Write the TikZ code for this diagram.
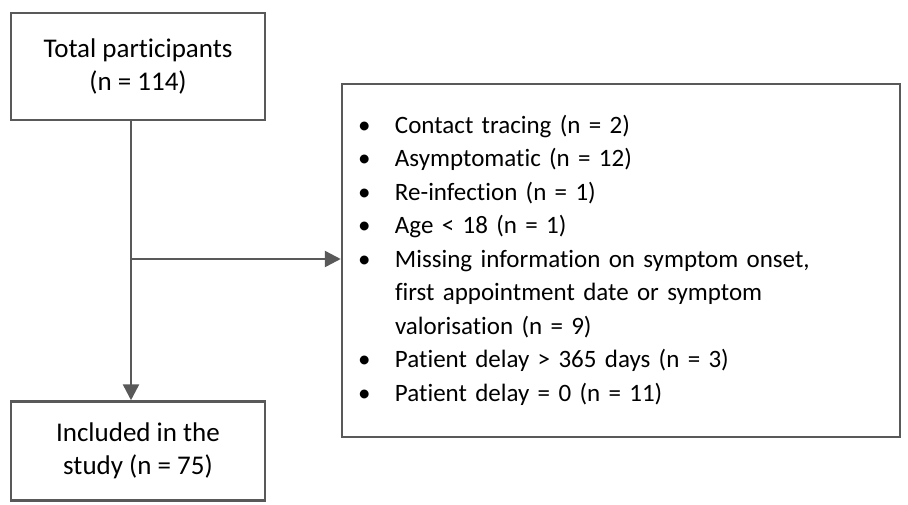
\documentclass[tikz,border=0pt]{standalone}
\usepackage{fontspec}
\setmainfont{Carlito}[Ligatures={TeX,NoCommon}]
\usetikzlibrary{arrows.meta,positioning}
\definecolor{flowgray}{HTML}{595959}

\begin{document}
\begin{tikzpicture}[x=1pt,y=1pt,
	flow/.style={draw=flowgray,line width=2.5pt,rectangle,align=center,
		font=\fontsize{27}{33}\selectfont},
	link/.style={draw=flowgray,line width=2.5pt},
	arr/.style={link,-{Triangle[length=16pt,width=16pt]}}]
	\useasboundingbox (0,0) rectangle (908,-504);
	\node[flow,minimum width=254pt,minimum height=107pt](total) at (138,-66.5) {Total participants\\(n = 114)};
	\node[flow,minimum width=254pt,minimum height=99pt](incl) at (138,-451) {Included in the\\study (n = 75)};
	\node[flow,minimum width=558pt,minimum height=353pt,text width=526pt,inner xsep=16pt,
		align=left,font=\fontsize{25}{33.5}\selectfont](excl) at (621,-260.5) {%
		\begin{tabular}{@{}p{37pt}@{}l@{}}
			\textbullet & Contact tracing (n = 2)\\
			\textbullet & Asymptomatic (n = 12)\\
			\textbullet & Re-infection (n = 1)\\
			\textbullet & Age < 18 (n = 1)\\
			\textbullet & Missing information on symptom onset,\\
			 & first appointment date or symptom\\
			 & valorisation (n = 9)\\
			\textbullet & Patient delay > 365 days (n = 3)\\
			\textbullet & Patient delay = 0 (n = 11)
		\end{tabular}};
	\coordinate (split) at (131,-259);
	
	\draw[link] (total.south -| split) -- (split);
	\draw[arr] (split) -- (split |- incl.north);
	\draw[arr] (split) -- (split -| excl.west);
\end{tikzpicture}
\end{document}
